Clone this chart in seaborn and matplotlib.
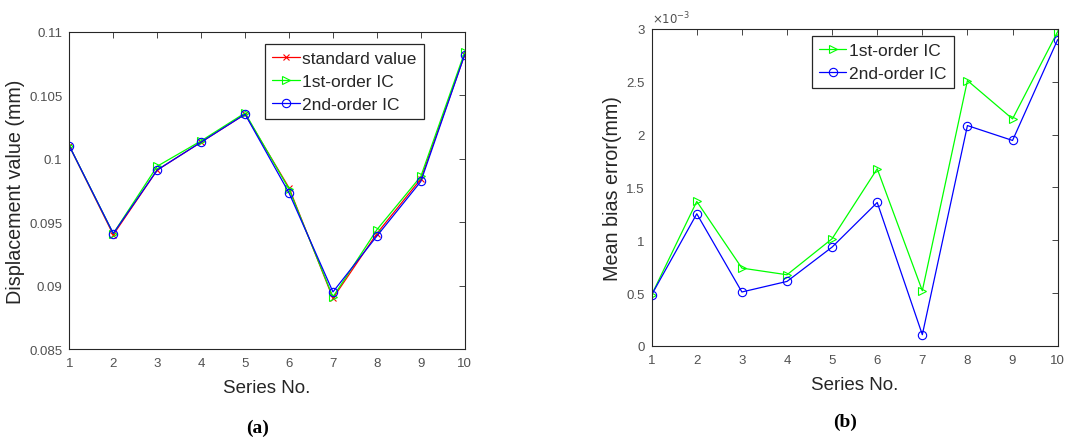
import numpy as np
import pandas as pd
import matplotlib
matplotlib.use("Agg")
import matplotlib.pyplot as plt
import seaborn as sns
from matplotlib.ticker import FuncFormatter

# ---------------- data ----------------
series_no = [1, 2, 3, 4, 5, 6, 7, 8, 9, 10]
standard_value = [0.1010, 0.0940, 0.0991, 0.1013, 0.1035, 0.0977, 0.0890, 0.0941, 0.0984, 0.1082]
first_order_ic = [0.1010, 0.0941, 0.0994, 0.1014, 0.1036, 0.0976, 0.0891, 0.0944, 0.0986, 0.1084]
second_order_ic = [0.1010, 0.0941, 0.0991, 0.1013, 0.1035, 0.0973, 0.0895, 0.0939, 0.0982, 0.1082]

# mean bias error, in units of 1e-3 mm
mbe_first_e3 = [0.485, 1.368, 0.737, 0.674, 1.015, 1.677, 0.523, 2.512, 2.149, 2.975]
mbe_second_e3 = [0.485, 1.251, 0.511, 0.611, 0.936, 1.358, 0.107, 2.086, 1.945, 2.899]

yticks_a = [0.085, 0.09, 0.095, 0.1, 0.105, 0.11]
yticks_b = [0, 0.5, 1, 1.5, 2, 2.5, 3]

# ---------------- style ----------------
sns.set_theme(style="white")
plt.rcParams["font.family"] = ["Liberation Sans", "DejaVu Sans"]
plt.rcParams.update({
    "xtick.direction": "in", "ytick.direction": "in",
    "xtick.top": True, "ytick.right": True,
    "xtick.major.size": 4, "ytick.major.size": 4,
    "xtick.major.width": 0.6, "ytick.major.width": 0.6,
    "xtick.major.pad": 6, "ytick.major.pad": 5,
    "axes.edgecolor": "#262626", "axes.linewidth": 0.8,
    "xtick.color": "#262626", "ytick.color": "#262626",
    "xtick.labelcolor": "#505050", "ytick.labelcolor": "#505050",
    "xtick.labelsize": 9.5, "ytick.labelsize": 9.5,
    "axes.labelcolor": "#262626",
})

fig = plt.figure(figsize=(10.65, 4.39), dpi=100)
ax_a = fig.add_axes([0.0651, 0.2027, 0.3713, 0.7228])
ax_b = fig.add_axes([0.6119, 0.2096, 0.3812, 0.7221])

RED, GREEN, BLUE = "#ff0000", "#00ff00", "#0000ff"

def draw(ax, y, color, marker, label, ms=6):
    sns.lineplot(x=series_no, y=y, ax=ax, color=color, marker=marker,
                 markersize=ms, markerfacecolor="none", markeredgecolor=color,
                 markeredgewidth=0.8, linewidth=0.9, label=label)

leg_kw = dict(fancybox=False, framealpha=1, edgecolor="#262626", fontsize=12.5,
              handlelength=1.6, handletextpad=0.15, borderpad=0.4, labelspacing=0.45,
              borderaxespad=0)

# panel (a)
draw(ax_a, standard_value, RED, "x", "standard value", ms=5)
draw(ax_a, first_order_ic, GREEN, ">", "1st-order IC")
draw(ax_a, second_order_ic, BLUE, "o", "2nd-order IC")
ax_a.set_xlim(1, 10)
ax_a.set_ylim(0.085, 0.11)
ax_a.set_xticks(series_no)
ax_a.set_yticks(yticks_a)
ax_a.yaxis.set_major_formatter(FuncFormatter(lambda v, p: f"{v:g}"))
ax_a.set_xlabel("Series No.", fontsize=13.5, labelpad=7)
ax_a.set_ylabel("Displacement value (mm)", fontsize=14.2, labelpad=3)
ax_a.legend(loc="upper left", bbox_to_anchor=(0.2488, 0.8975), bbox_transform=fig.transFigure,
            **leg_kw).get_frame().set_linewidth(0.9)

# panel (b)
draw(ax_b, mbe_first_e3, GREEN, ">", "1st-order IC")
draw(ax_b, mbe_second_e3, BLUE, "o", "2nd-order IC")
ax_b.set_xlim(1, 10)
ax_b.set_ylim(0, 3)
ax_b.set_xticks(series_no)
ax_b.set_yticks(yticks_b)
ax_b.yaxis.set_major_formatter(FuncFormatter(lambda v, p: f"{v:g}"))
ax_b.set_xlabel("Series No.", fontsize=13.5, labelpad=7)
ax_b.set_ylabel("Mean bias error(mm)", fontsize=14.2, labelpad=3)
ax_b.text(0.0, 1.01, r"$\times10^{-3}$", transform=ax_b.transAxes, fontsize=8.5,
          color="#505050", ha="left", va="bottom")
ax_b.legend(loc="upper left", bbox_to_anchor=(0.7622, 0.9164), bbox_transform=fig.transFigure,
            **leg_kw).get_frame().set_linewidth(0.9)

for ax in (ax_a, ax_b):
    for s in ax.spines.values():
        s.set_visible(True)

# captions
fig.text(258 / 1065, 1 - 428 / 439, "(a)", fontsize=14, fontweight="bold",
         family="Liberation Serif", ha="center", va="center", color="black")
fig.text(845 / 1065, 1 - 422 / 439, "(b)", fontsize=14, fontweight="bold",
         family="Liberation Serif", ha="center", va="center", color="black")

fig.savefig("out.png", dpi=100, facecolor="white")
